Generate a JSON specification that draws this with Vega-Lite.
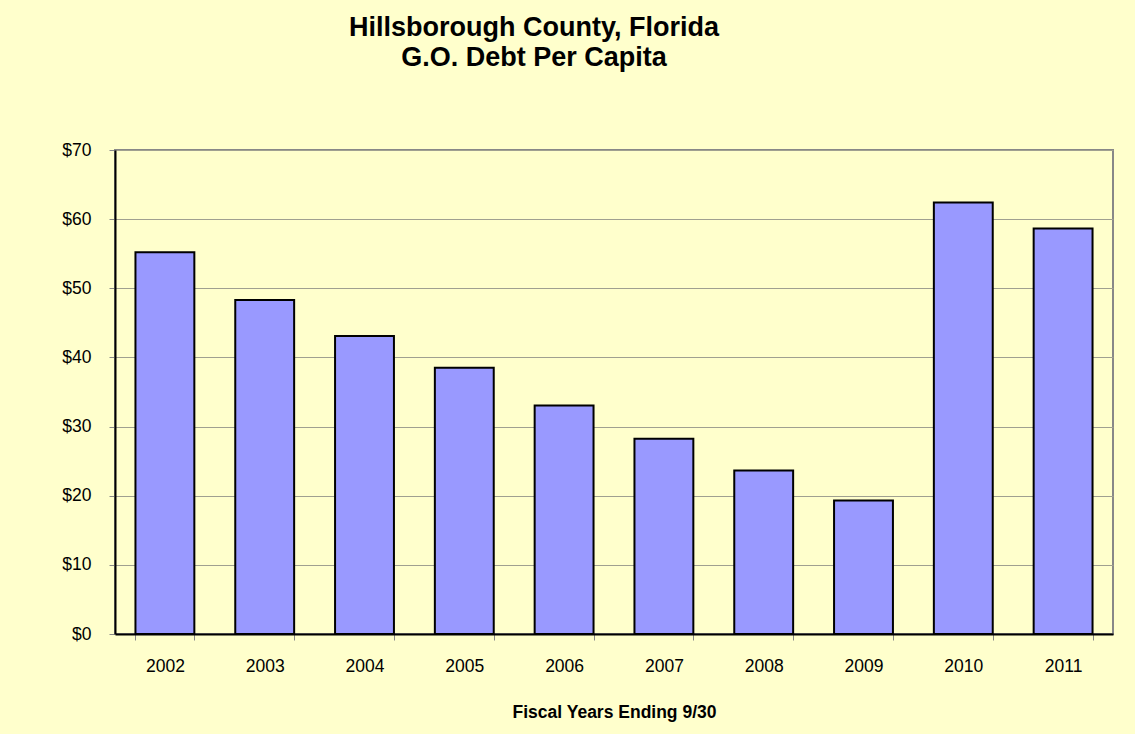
{
  "$schema": "https://vega.github.io/schema/vega-lite/v6.json",
  "autosize": {"type": "none"},
  "width": 998,
  "height": 484,
  "padding": {"left": 115, "top": 150, "right": 22, "bottom": 100},
  "background": "#FFFFCC",
  "title": {
    "text": ["Hillsborough County, Florida", "G.O. Debt Per Capita"],
    "font": "Liberation Sans",
    "fontSize": 27,
    "fontWeight": "bold",
    "color": "#000000",
    "lineHeight": 30,
    "anchor": "middle",
    "frame": "group",
    "dx": -80,
    "offset": 69
  },
  "config": {
    "font": "Liberation Sans",
    "view": {"stroke": "#888888", "strokeWidth": 2, "fill": "#FFFFCC"}
  },
  "data": {
    "values": [
      {"year": "2002", "debt": 55.2},
      {"year": "2003", "debt": 48.3},
      {"year": "2004", "debt": 43.1},
      {"year": "2005", "debt": 38.5},
      {"year": "2006", "debt": 33.05},
      {"year": "2007", "debt": 28.25},
      {"year": "2008", "debt": 23.65},
      {"year": "2009", "debt": 19.3},
      {"year": "2010", "debt": 62.4},
      {"year": "2011", "debt": 58.65}
    ]
  },
  "mark": {"type": "bar", "fill": "#9999FF", "stroke": "#000000", "strokeWidth": 2},
  "encoding": {
    "x": {
      "field": "year",
      "type": "ordinal",
      "scale": {"paddingInner": 0.41, "paddingOuter": 0.205},
      "axis": {
        "title": "Fiscal Years Ending 9/30",
        "titleFont": "Liberation Sans",
        "titleFontSize": 17.5,
        "titleFontWeight": "bold",
        "titleColor": "#000000",
        "titlePadding": 29,
        "labelAngle": 0,
        "labelFontSize": 17.5,
        "labelColor": "#000000",
        "labelPadding": 17,
        "domainColor": "#000000",
        "domainWidth": 2,
        "tickColor": "#888888",
        "tickSize": 6,
        "tickBand": "extent"
      }
    },
    "y": {
      "field": "debt",
      "type": "quantitative",
      "scale": {"domain": [0, 70], "nice": false},
      "axis": {
        "title": null,
        "values": [0, 10, 20, 30, 40, 50, 60, 70],
        "format": "$,.0f",
        "labelFontSize": 17.5,
        "labelColor": "#000000",
        "labelPadding": 18,
        "domainColor": "#000000",
        "domainWidth": 2,
        "tickColor": "#888888",
        "tickSize": 6,
        "gridColor": "#A0A090",
        "gridWidth": 1
      }
    }
  }
}
